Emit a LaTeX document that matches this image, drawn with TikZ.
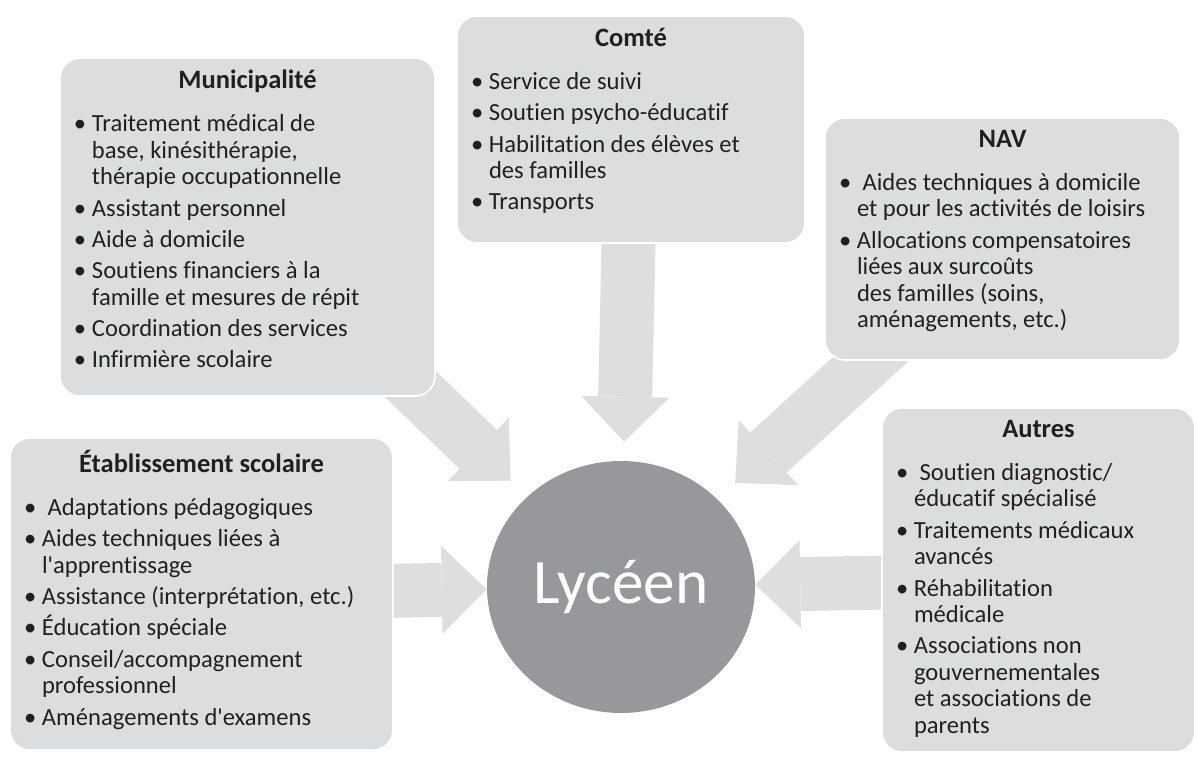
\documentclass[tikz,border=0pt]{standalone}
\usepackage{fontspec}
\setmainfont{Carlito}[Ligatures={TeX,NoCommon}]
\usepackage{tikz}
\usetikzlibrary{
  shapes.geometric,
  arrows.meta,
  backgrounds
}
\definecolor{boxgray}{RGB}{220,221,223}
\definecolor{arrowgray}{RGB}{221,222,224}
\definecolor{hubgray}{RGB}{151,152,156}
\definecolor{inkdark}{RGB}{35,31,32}
\tikzset{
  panel/.style={rectangle,rounded corners=0.5cm,fill=boxgray,draw=white,line width=1.2pt,inner xsep=0.35cm,inner ysep=0.3cm,text=inkdark,font=\fontsize{17.5}{18.85}\selectfont},
  hubnode/.style={ellipse,fill=hubgray,draw=none,minimum width=6.7cm,minimum height=6.3cm,inner sep=0pt,text=white,font=\fontsize{45}{50}\selectfont},
  bigarr/.style={line width=38.4pt,draw=arrowgray,-{Triangle[length=32pt,width=62.6pt,line width=0pt]}}
}
\newcommand{\paneltitle}[1]{{\centering\bfseries\fontsize{18.85}{20}\selectfont #1\par}\vspace{0.3cm}}
\newcommand{\bitem}[1]{\par\vspace{0.12cm}\hangindent=0.45cm\hangafter=1\noindent\makebox[0.45cm][l]{\textbullet}#1}
\newcommand{\panelbody}[3]{\parbox[t][#2][t]{#1}{\raggedright #3\par}}

\begin{document}
\begin{tikzpicture}
  \useasboundingbox (0,0) rectangle (29.925,-18.975);

  %% centre
  \node[hubnode] (lyceen) at (15.525,-14.675) {Lycéen};

  %% panels round the centre
  \node[panel] (muni) at (6.1875,-5.675) {\panelbody{8.675cm}{7.85cm}{%
    \paneltitle{Municipalité}
    \bitem{Traitement médical de\newline base, kinésithérapie,\newline thérapie occupationnelle}
    \bitem{Assistant personnel}
    \bitem{Aide à domicile}
    \bitem{Soutiens financiers à la\newline famille et mesures de répit}
    \bitem{Coordination des services}
    \bitem{Infirmière scolaire}}};
  \node[panel] (comte) at (15.775,-3.2375) {\panelbody{8.0cm}{5.075cm}{%
    \paneltitle{Comté}
    \bitem{Service de suivi}
    \bitem{Soutien psycho-éducatif}
    \bitem{Habilitation des élèves et\newline des familles}
    \bitem{Transports}}};
  \node[panel] (nav) at (25.0625,-5.975) {\panelbody{8.175cm}{5.45cm}{%
    \paneltitle{NAV}
    \bitem{\ Aides techniques à domicile\newline et pour les activités de loisirs}
    \bitem{Allocations compensatoires\newline liées aux surcoûts\newline des familles (soins,\newline aménagements, etc.)}}};
  \node[panel] (etab) at (5.0375,-14.85) {\panelbody{8.875cm}{7.2cm}{%
    \paneltitle{Établissement scolaire}
    \bitem{\ Adaptations pédagogiques}
    \bitem{Aides techniques liées à\newline l\textquotesingle apprentissage}
    \bitem{Assistance (interprétation, etc.)}
    \bitem{Éducation spéciale}
    \bitem{Conseil/accompagnement\newline professionnel}
    \bitem{Aménagements d\textquotesingle examens}}};
  \node[panel] (autres) at (25.9625,-14.5) {\panelbody{7.125cm}{8.0cm}{%
    \paneltitle{Autres}
    \bitem{\ Soutien diagnostic/\newline éducatif spécialisé}
    \bitem{Traitements médicaux\newline avancés}
    \bitem{Réhabilitation\newline médicale}
    \bitem{Associations non\newline gouvernementales\newline et associations de\newline parents}}};

  %% block arrows behind the panels
  \begin{scope}[on background layer]
    \draw[bigarr,shorten >=0.575cm] (muni.center) -- (lyceen);
    \draw[bigarr,shorten >=0.475cm] (comte.center) -- (lyceen);
    \draw[bigarr,shorten >=0.6cm] (nav.center) -- (lyceen);
    \draw[bigarr] (etab.center) -- (lyceen);
    \draw[bigarr] (autres.center) -- (lyceen);
  \end{scope}
\end{tikzpicture}
\end{document}
